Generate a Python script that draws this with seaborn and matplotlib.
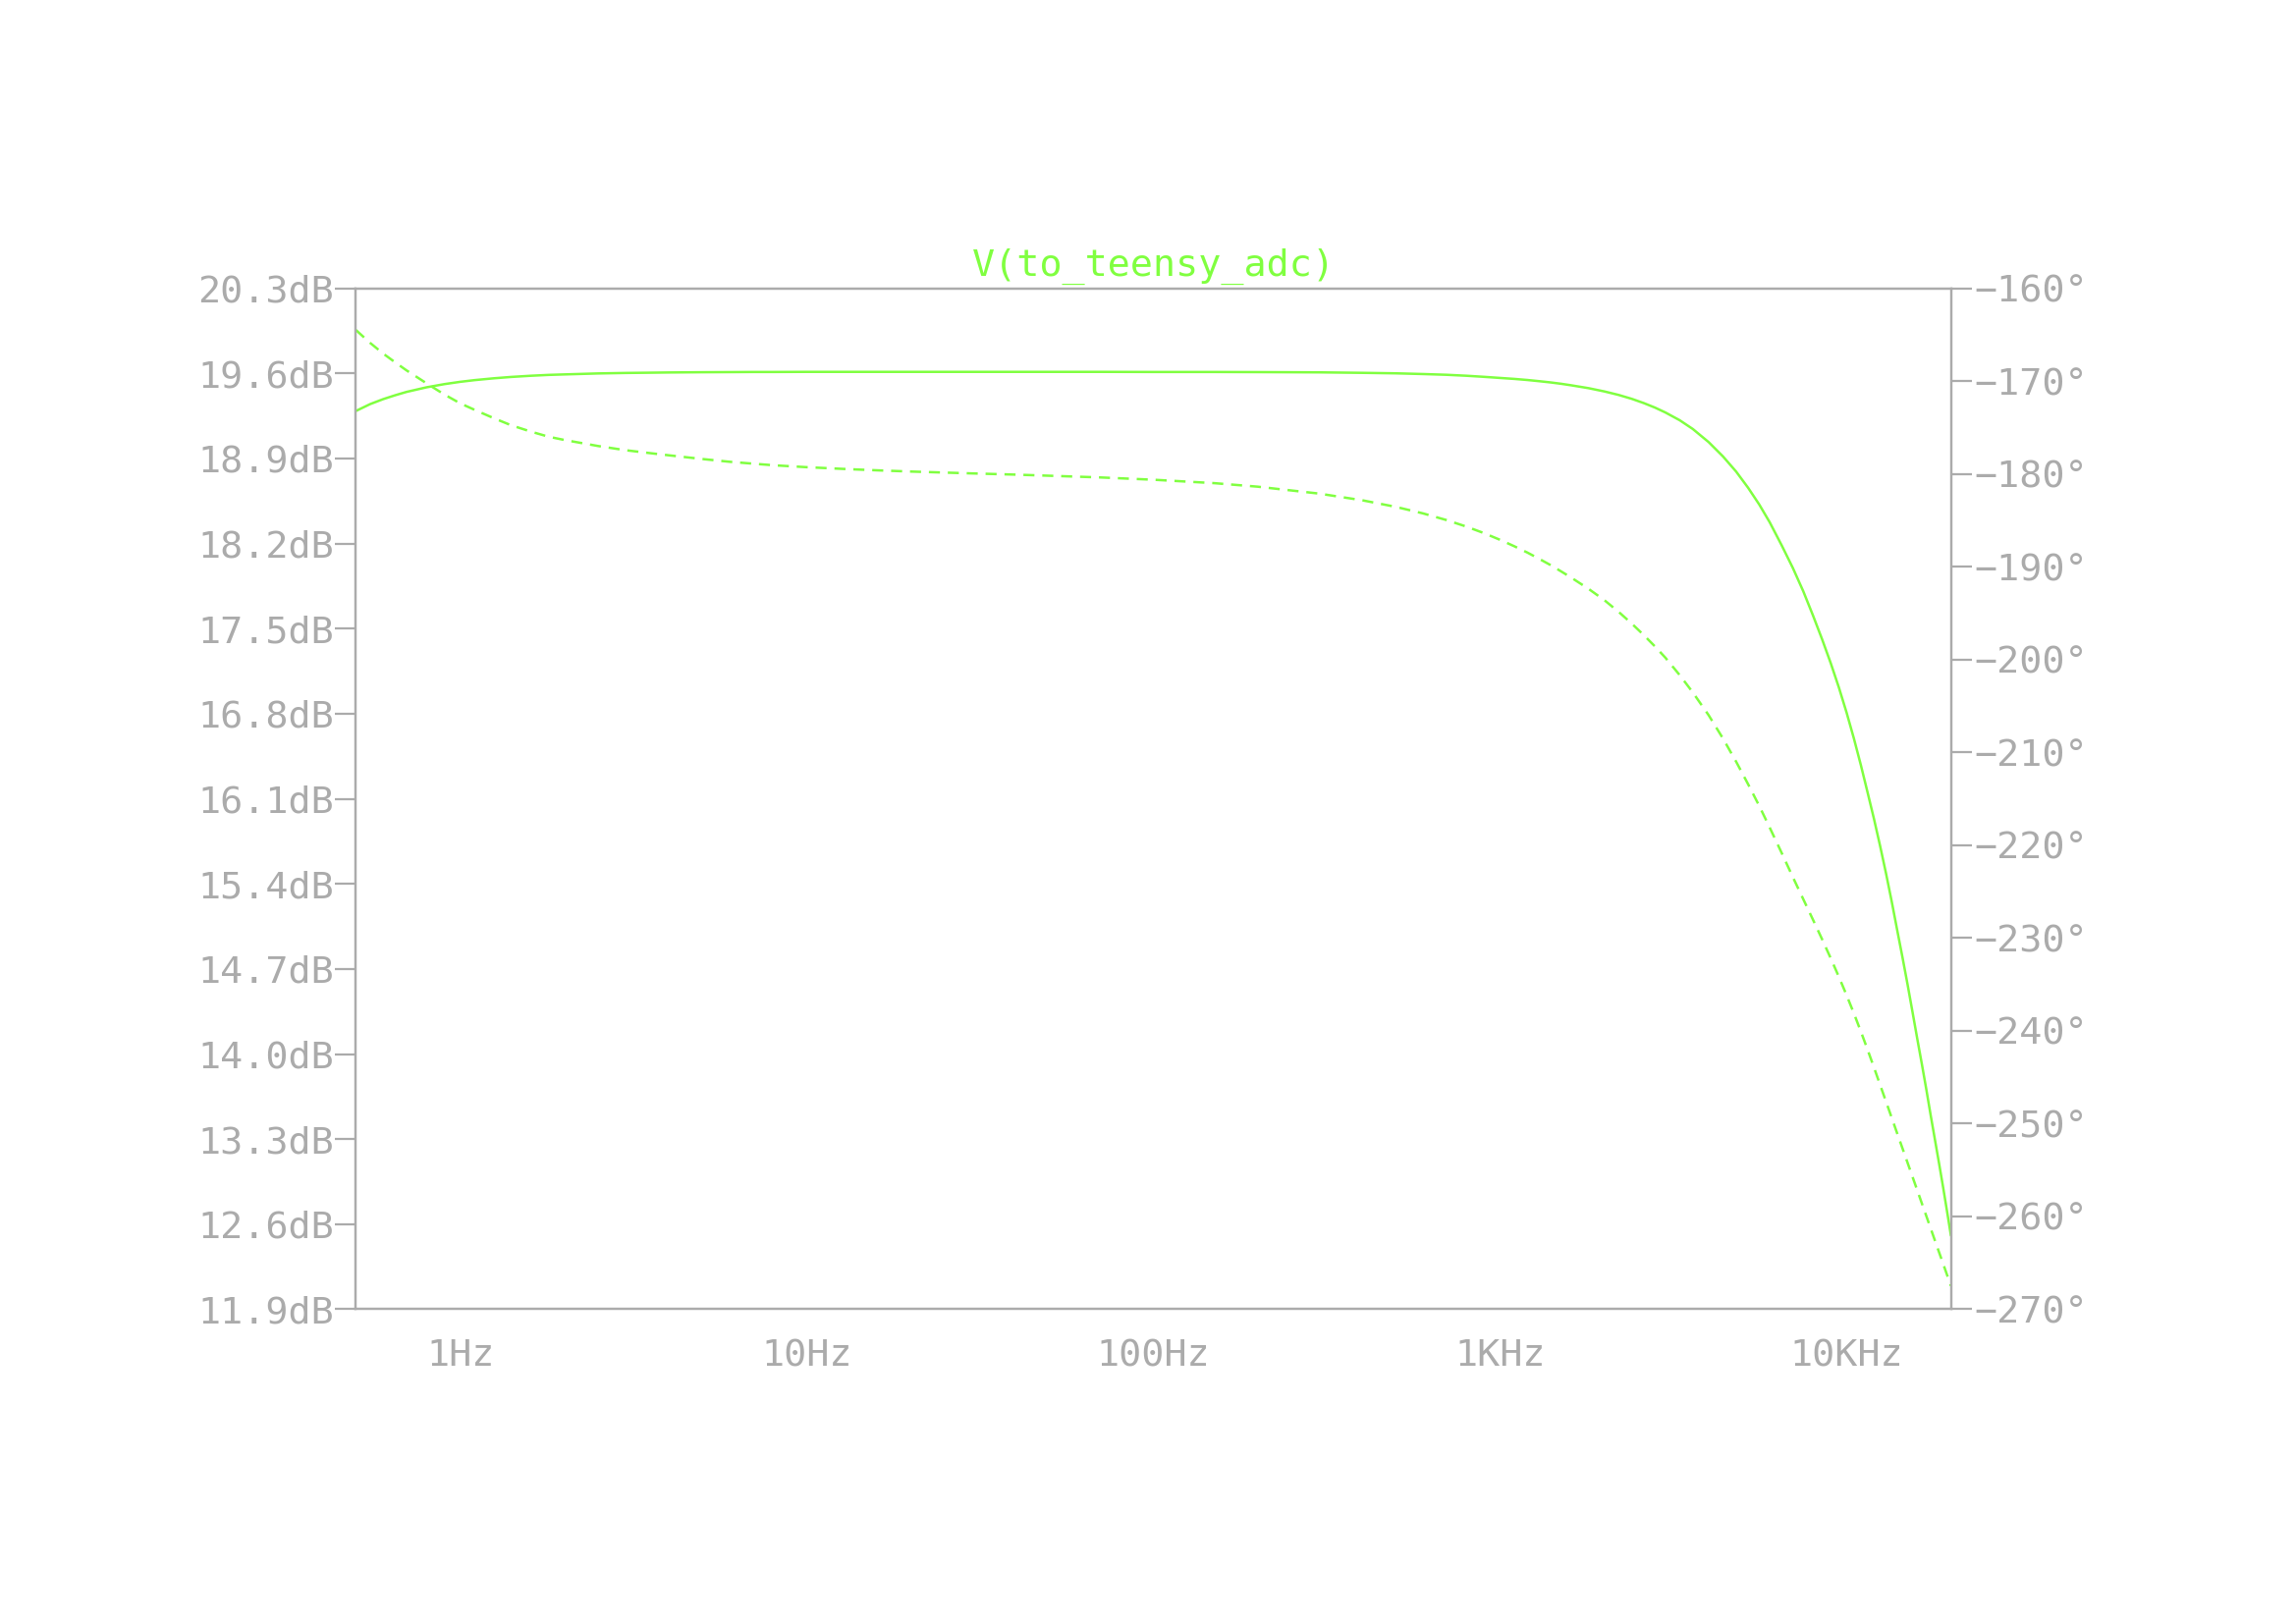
import numpy as np
import pandas as pd
import matplotlib
matplotlib.use("Agg")
import matplotlib.pyplot as plt
import matplotlib.ticker as mticker
import seaborn as sns

# frequency points (Hz)
freq = [0.5, 0.55, 0.6, 0.65, 0.7, 0.8, 0.9, 1.0, 1.1, 1.25, 1.4, 1.6, 1.8, 2,
        2.5, 3, 3.5, 4, 5, 6, 7, 8, 10, 13, 16, 20, 25, 30, 40, 50, 70, 100,
        150, 200, 300, 400, 500, 600, 700, 800, 900, 1000, 1100, 1200, 1300,
        1400, 1500, 1600, 1800, 2000, 2200, 2400, 2600, 2800, 3000, 3300, 3600,
        4000, 4400, 4800, 5200, 5600, 6000, 6500, 7000, 7500, 8000, 8500, 9000,
        9500, 10000, 10500, 11000, 11500, 12000, 12500, 13000, 13500, 14000,
        14500, 15000, 15500, 16000, 16500, 17000, 17500, 18000, 18500, 19000,
        19500, 20000]

# magnitude (dB), solid trace
mag_db = [19.29, 19.347, 19.388, 19.42, 19.447, 19.485, 19.511, 19.53, 19.544,
          19.559, 19.57, 19.58, 19.587, 19.591, 19.599, 19.603, 19.605, 19.607,
          19.609, 19.61, 19.611, 19.611, 19.612, 19.612, 19.612, 19.612, 19.612,
          19.612, 19.612, 19.612, 19.612, 19.611, 19.611, 19.61, 19.608, 19.604,
          19.60, 19.594, 19.588, 19.58, 19.571, 19.562, 19.554, 19.545, 19.535,
          19.525, 19.514, 19.502, 19.478, 19.451, 19.422, 19.39, 19.355, 19.318,
          19.278, 19.214, 19.142, 19.034, 18.916, 18.792, 18.658, 18.52, 18.375,
          18.184, 17.998, 17.807, 17.608, 17.412, 17.216, 17.016, 16.809,
          16.595, 16.375, 16.151, 15.933, 15.71, 15.484, 15.253, 15.018, 14.794,
          14.57, 14.344, 14.123, 13.913, 13.703, 13.49, 13.29, 13.095, 12.90,
          12.703, 12.507]

# phase (degrees), dashed trace
phase_deg = [-164.5, -165.9, -167.05, -168.0, -168.85, -170.25, -171.45,
             -172.4, -173.1, -174.0, -174.75, -175.45, -176.0, -176.35,
             -177.0, -177.45, -177.75, -178.0, -178.4, -178.7, -178.9, -179.07,
             -179.28, -179.48, -179.62, -179.75, -179.86, -179.95, -180.08,
             -180.2, -180.38, -180.63, -181.0, -181.38, -182.12, -182.84,
             -183.55, -184.26, -184.97, -185.68, -186.39, -187.1, -187.8,
             -188.48, -189.17, -189.83, -190.5, -191.14, -192.38, -193.6,
             -194.87, -196.13, -197.37, -198.59, -199.8, -201.68, -203.54,
             -206.0, -208.51, -211.0, -213.44, -215.78, -218.1, -220.85,
             -223.45, -225.82, -228.03, -230.14, -232.18, -234.18, -236.16,
             -238.13, -240.09, -242.04, -243.96, -245.84, -247.64, -249.38,
             -251.06, -252.67, -254.23, -255.74, -257.2, -258.62, -259.99,
             -261.33, -262.63, -263.89, -265.11, -266.31, -267.48]

db_ticks = [11.9, 12.6, 13.3, 14.0, 14.7, 15.4, 16.1, 16.8, 17.5, 18.2, 18.9, 19.6, 20.3]
deg_ticks = [-270, -260, -250, -240, -230, -220, -210, -200, -190, -180, -170, -160]
x_ticks = [1, 10, 100, 1000, 10000]
x_labels = ["1Hz", "10Hz", "100Hz", "1KHz", "10KHz"]
title = "V(to_teensy_adc)"

df = pd.DataFrame({"freq": freq, "mag": mag_db, "phase": phase_deg})

sns.set_style("white")
plt.rcParams["font.family"] = ["DejaVu Sans Mono", "DejaVu Sans"]

GREY = "#ababab"
GREEN = "#80ff40"
FS = 13.8

fig = plt.figure(figsize=(11.69, 8.26), dpi=200)
ax = fig.add_axes([0.155, 0.1928, 0.8497 - 0.155, 0.8223 - 0.1928])
ax2 = ax.twinx()

sns.lineplot(data=df, x="freq", y="mag", ax=ax, color=GREEN, linewidth=0.9)
sns.lineplot(data=df, x="freq", y="phase", ax=ax2, color=GREEN, linewidth=0.9)
ax2.lines[0].set_dashes((4.5, 3.2))

ax.set_xscale("log")
ax.set_xlim(0.5, 20000)
ax.set_ylim(11.9, 20.3)
ax2.set_ylim(-270, -160)

ax.set_xticks(x_ticks)
ax.set_xticklabels(x_labels)
ax.xaxis.set_minor_locator(mticker.LogLocator(base=10, subs=np.arange(2, 10), numticks=20))
ax.xaxis.set_minor_formatter(mticker.NullFormatter())

ax.set_yticks(db_ticks)
ax.set_yticklabels([f"{v:.1f}dB" for v in db_ticks])
ax2.set_yticks(deg_ticks)
ax2.set_yticklabels([f"\u2212{abs(v)}\u00b0" for v in deg_ticks])

ax.set_xlabel("")
ax.set_ylabel("")
ax2.set_ylabel("")

for a in (ax, ax2):
    for s in a.spines.values():
        s.set_color(GREY)
        s.set_linewidth(0.8)

ax.tick_params(axis="x", which="major", direction="out", length=7.6, width=0.8,
               color=GREY, labelcolor=GREY, labelsize=FS, pad=3.2)
ax.tick_params(axis="x", which="minor", direction="out", length=4.0, width=0.8,
               color=GREY)
ax.tick_params(axis="y", direction="out", length=7.5, width=0.8, color=GREY,
               labelcolor=GREY, labelsize=FS, pad=0.5, left=True)
ax2.tick_params(axis="y", direction="out", length=7.5, width=0.8, color=GREY,
                labelcolor=GREY, labelsize=FS, pad=1.2, right=True)

ax.set_title(title, color=GREEN, fontsize=FS, pad=4.5)

fig.savefig("out.png", dpi=200, facecolor="white")
